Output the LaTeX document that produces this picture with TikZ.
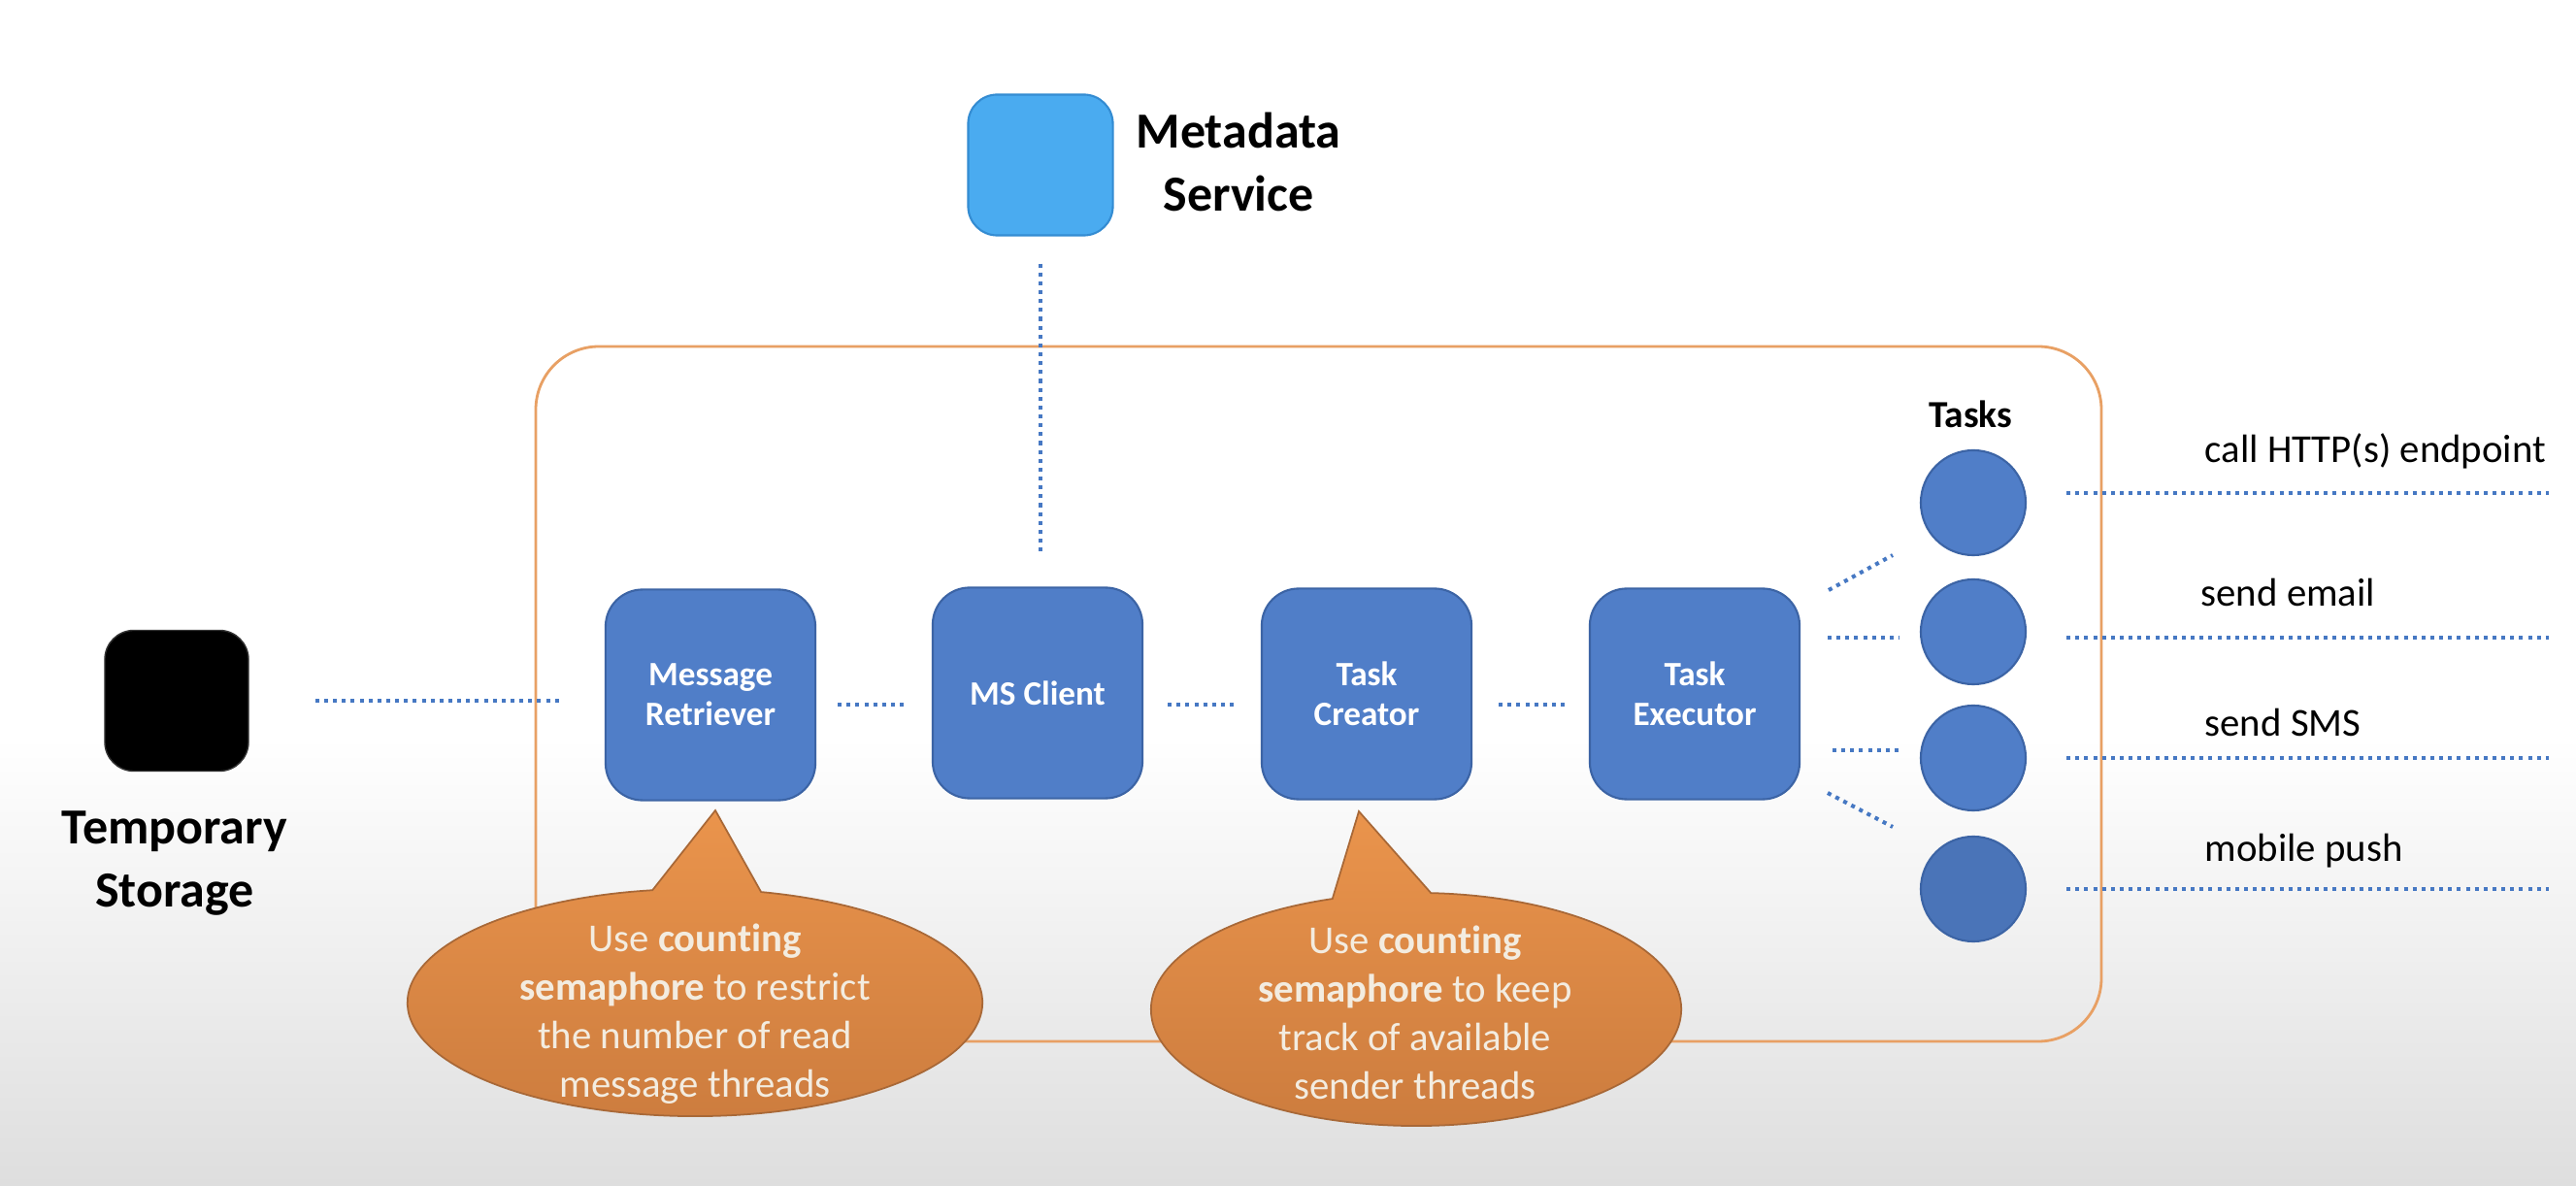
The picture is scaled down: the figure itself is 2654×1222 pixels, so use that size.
\documentclass[tikz,border=0pt]{standalone}
\usepackage{fontspec}
\setmainfont{Carlito}[Ligatures=NoCommon]
\usetikzlibrary{calc}
\definecolor{boxblue}{RGB}{80,126,200}
\definecolor{boxborder}{RGB}{60,100,165}
\definecolor{mdblue}{RGB}{74,171,240}
\definecolor{mdborder}{RGB}{52,140,210}
\definecolor{dotblue}{RGB}{70,120,195}
\definecolor{orangeline}{RGB}{232,160,100}
\definecolor{calltop}{RGB}{234,148,76}
\definecolor{callbot}{RGB}{204,124,62}
\definecolor{callborder}{RGB}{168,104,55}
\definecolor{calltext}{RGB}{243,236,224}
\definecolor{bggray}{RGB}{222,222,222}
\begin{document}
\begin{tikzpicture}[x=0.01cm,y=-0.01cm,
  procbox/.style={draw=boxborder, line width=0.6pt, fill=boxblue, rounded corners=0.38cm,
    minimum width=2.16cm, minimum height=2.17cm, text=white, align=center, inner sep=0pt,
    font=\bfseries\fontsize{10pt}{11.7pt}\selectfont},
  taskcirc/.style={circle, draw=boxborder, line width=0.6pt, fill=boxblue, minimum size=1.08cm, inner sep=0pt},
  dotline/.style={draw=dotblue, line width=1.15pt, dash pattern=on 1.15pt off 1.45pt},
  bigtext/.style={align=center, inner sep=0pt, font=\bfseries\fontsize{14.8pt}{18.5pt}\selectfont},
  lbltext/.style={inner sep=0pt, font=\fontsize{11.6pt}{14pt}\selectfont},
  calloutshape/.style={draw=callborder, line width=0.5pt, top color=calltop, bottom color=callbot},
  callouttext/.style={align=center, inner sep=0pt, text=calltext, font=\fontsize{11.6pt}{14.2pt}\selectfont}
]
\useasboundingbox (0,0) rectangle (2654,1222);
% background
\fill[white] (0,0) rectangle (2654,1222);
\shade[top color=white, bottom color=bggray] (0,760) rectangle (2654,1222);

% container
\draw[orangeline, line width=0.8pt, rounded corners=0.65cm] (552,357) rectangle (2165,1073);

% external nodes
\node[draw=black!80, fill=black, rounded corners=0.3cm, minimum width=1.48cm, minimum height=1.45cm] (ts) at (182,722) {};
\node[bigtext] (tslbl) at (180,890) {Temporary\\Storage};
\node[draw=mdborder, line width=0.6pt, fill=mdblue, rounded corners=0.3cm, minimum width=1.49cm, minimum height=1.45cm] (md) at (1072,170) {};
\node[bigtext] (mdlbl) at (1276,167) {Metadata\\Service};

% process boxes
\node[procbox] (mr) at (732,716) {Message\\Retriever};
\node[procbox] (ms) at (1069,714) {MS Client};
\node[procbox] (tc) at (1408,715) {Task\\Creator};
\node[procbox] (te) at (1746,715) {Task\\Executor};

% tasks
\node[inner sep=0pt, anchor=base, font=\bfseries\fontsize{11.2pt}{13pt}\selectfont] (tasks) at (2030,441) {Tasks};
\node[taskcirc] (c1) at (2033,518) {};
\node[taskcirc] (c2) at (2033,651) {};
\node[taskcirc] (c3) at (2033,781) {};
\node[taskcirc, fill=boxblue!92!black] (c4) at (2033,916) {};

% labels right
\node[lbltext, anchor=base west] (l1) at (2271,477) {call HTTP(s) endpoint};
\node[lbltext, anchor=base west] (l2) at (2267,625) {send email};
\node[lbltext, anchor=base west] (l3) at (2271,759) {send SMS};
\node[lbltext, anchor=base west] (l4) at (2271,888) {mobile push};

% free ends
\coordinate (e1) at (2626,508);
\coordinate (e2) at (2626,657);
\coordinate (e3) at (2626,781);
\coordinate (e4) at (2626,916);
\coordinate (f1a) at (1884,608); \coordinate (f1b) at (1950,572);
\coordinate (f2a) at (1883,657); \coordinate (f2b) at (1957,657);
\coordinate (f3a) at (1888,773); \coordinate (f3b) at (1961,773);
\coordinate (f4a) at (1883,817); \coordinate (f4b) at (1950,852);

% connectors
\draw[dotline, shorten <=0.68cm, shorten >=0.44cm] (ts.east) -- (ts.east -| mr.west);
\draw[dotline, shorten <=0.28cm, shorten >=0.35cm] (md.south) -- (md.south |- ms.north);
\draw[dotline, shorten <=0.22cm, shorten >=0.24cm] ([yshift=-0.1cm]mr.east) -- ([yshift=-0.1cm]mr.east -| ms.west);
\draw[dotline, shorten <=0.25cm, shorten >=0.24cm] ([yshift=-0.12cm]ms.east) -- ([yshift=-0.12cm]ms.east -| tc.west);
\draw[dotline, shorten <=0.27cm, shorten >=0.22cm] ([yshift=-0.11cm]tc.east) -- ([yshift=-0.11cm]tc.east -| te.west);
\draw[dotline] (f1a) -- (f1b);
\draw[dotline] (f2a) -- (f2b);
\draw[dotline] (f3a) -- (f3b);
\draw[dotline] (f4a) -- (f4b);
\draw[dotline, shorten <=0.41cm] (c1.east |- e1) -- (e1);
\draw[dotline, shorten <=0.41cm] (c2.east |- e2) -- (e2);
\draw[dotline, shorten <=0.41cm] (c3.east |- e3) -- (e3);
\draw[dotline, shorten <=0.41cm] (c4.east |- e4) -- (e4);

% callouts
\coordinate (k1) at (716,1033);
\coordinate (t1) at (737,835);
\path[calloutshape] (t1) -- ($(k1)+(76.7:2.96cm and 1.17cm)$)
  arc[start angle=76.7, end angle=-261.5, x radius=2.96cm, y radius=1.17cm] -- cycle;
\node[callouttext] (n1) at (716,1045) {Use \textbf{counting}\\\textbf{semaphore} to restrict\\the number of read\\message threads};

\coordinate (k2) at (1459,1040);
\coordinate (t2) at (1400,836);
\path[calloutshape] (t2) -- ($(k2)+(86.8:2.73cm and 1.2cm)$)
  arc[start angle=86.8, end angle=-251.6, x radius=2.73cm, y radius=1.2cm] -- cycle;
\node[callouttext] (n2) at (1458,1043) {Use \textbf{counting}\\\textbf{semaphore} to keep\\track of available\\sender threads};
\end{tikzpicture}
\end{document}
